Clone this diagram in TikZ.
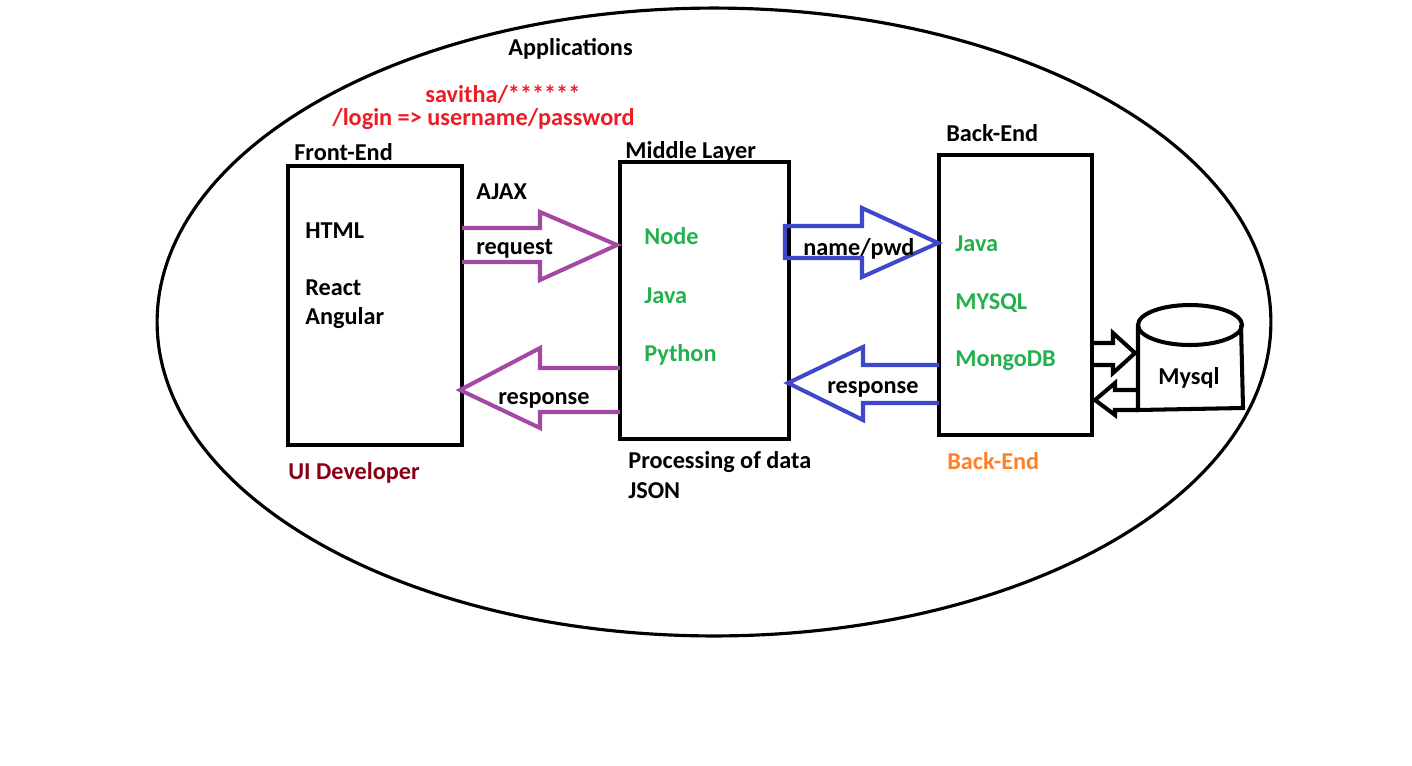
\documentclass[tikz,border=0pt]{standalone}
\usepackage{fontspec}
\setmainfont{Carlito}
\definecolor{pgreen}{HTML}{22B14C}
\definecolor{pred}{HTML}{ED1C24}
\definecolor{ppurple}{HTML}{A349A4}
\definecolor{pblue}{HTML}{3F48CC}
\definecolor{pdarkred}{HTML}{880015}
\definecolor{porange}{HTML}{FF7F27}
\begin{document}
\begin{tikzpicture}[x=0.02cm,y=-0.02cm,
  txt/.style={anchor=base west,inner sep=0pt,font=\fontsize{13.8pt}{16pt}\selectfont\bfseries},
  box/.style={draw,line width=2.3pt,anchor=north west,inner sep=0pt,outer sep=0pt},
  blockarrow/.style={line width=2.3pt,line join=miter},
  ]
\useasboundingbox (0,0) rectangle (1412,765);
% outer ellipse
\draw[line width=1.8pt] (714,322) ellipse [x radius=11.14cm, y radius=6.28cm];
% boxes
\node[box,minimum width=3.48cm,minimum height=5.58cm] (front) at (288,166) {};
\node[box,minimum width=3.38cm,minimum height=5.54cm] (middle) at (620,162) {};
\node[box,minimum width=3.06cm,minimum height=5.6cm] (back) at (939,155) {};
% block arrows
\draw[blockarrow,ppurple] (462,228) -- (540,228) -- (540,212) -- (617,245) -- (540,280) -- (540,262) -- (462,262);
\draw[blockarrow,ppurple] (620,368) -- (540,368) -- (540,348) -- (460,390) -- (540,428) -- (540,412) -- (620,412);
\draw[blockarrow,pblue] (789,226) -- (785,226) -- (785,258) -- (862,258) -- (862,277) -- (938,243) -- (862,208) -- (862,226) -- cycle;
\draw[blockarrow,pblue] (939,365) -- (863,365) -- (863,347) -- (788,383) -- (863,420) -- (863,403) -- (939,403);
% cylinder
\draw[line width=2.3pt] (1190,325) ellipse [x radius=1.04cm, y radius=0.4cm];
\draw[line width=2.3pt] (1138,325) -- (1138,410) -- (1243,408) -- (1241,325);
\node[txt] (mysql) at (1158,384) {Mysql};
% black arrows between back-end and cylinder
\draw[blockarrow] (1092,343) -- (1113,343) -- (1113,333) -- (1135,353) -- (1113,373) -- (1113,365) -- (1092,365);
\draw[blockarrow] (1138,390) -- (1115,390) -- (1115,383) -- (1095,400) -- (1115,415) -- (1115,410) -- (1138,410);
% texts
\node[txt] (apps) at (508,55) {Applications};
\node[txt,pred] (sav) at (425,102) {savitha/******};
\node[txt,pred] (login) at (332,125) {/login => username/password};
\node[txt] (fe) at (294,160) {Front-End};
\node[txt] (html) at (305,238) {HTML};
\node[txt] (react) at (305,295) {React};
\node[txt] (ang) at (305,324) {Angular};
\node[txt] (ajax) at (476,199) {AJAX};
\node[txt] (req) at (476,254) {request};
\node[txt] (resp1) at (498,404) {response};
\node[txt] (ml) at (625,158) {Middle Layer};
\node[txt,pgreen] (node) at (644,244) {Node};
\node[txt,pgreen] (java1) at (644,303) {Java};
\node[txt,pgreen] (py) at (644,361) {Python};
\node[txt] (namepwd) at (803,255) {name/pwd};
\node[txt] (resp2) at (827,393) {response};
\node[txt] (be) at (946,141) {Back-End};
\node[txt,pgreen] (java2) at (955,251) {Java};
\node[txt,pgreen] (mys) at (955,309) {MYSQL};
\node[txt,pgreen] (mongo) at (955,366) {MongoDB};
\node[txt,pdarkred] (ui) at (288,479) {UI Developer};
\node[txt] (proc) at (628,468) {Processing of data};
\node[txt] (json) at (628,498) {JSON};
\node[txt,porange] (be2) at (947,469) {Back-End};
\end{tikzpicture}
\end{document}
